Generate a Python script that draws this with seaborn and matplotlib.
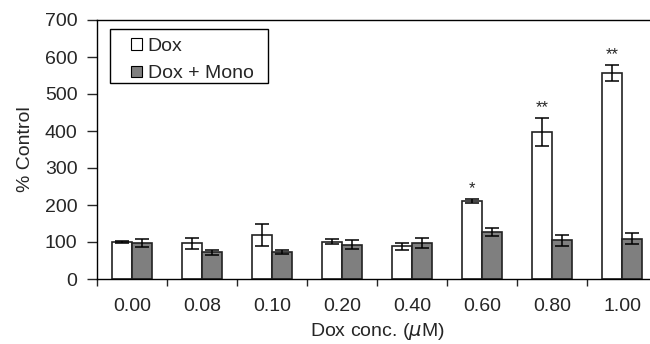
import numpy as np
import pandas as pd
import matplotlib
matplotlib.use('Agg')
import matplotlib.pyplot as plt
from matplotlib.patches import Rectangle
import seaborn as sns

# ─── Data ──────────────────────────────────────────────────────────────────
conc = ['0.00', '0.08', '0.10', '0.20', '0.40', '0.60', '0.80', '1.00']
dox = [100, 97, 118, 101, 88, 211, 397, 557]
dox_err = [2, 15, 30, 7, 10, 5, 38, 22]
mono = [97, 72, 73, 93, 98, 127, 105, 109]
mono_err = [10, 7, 5, 12, 13, 10, 15, 14]
stars = ['', '', '', '', '', '*', '**', '**']
groups = ['Dox', 'Dox + Mono']

df = pd.DataFrame({
    'conc': conc * 2,
    'value': dox + mono,
    'err': dox_err + mono_err,
    'group': [groups[0]] * len(conc) + [groups[1]] * len(conc),
})

sns.set_style('ticks')
plt.rcParams['font.family'] = ['Liberation Sans', 'DejaVu Sans']
fs = 14

fig = plt.figure(figsize=(6.5, 3.44), dpi=100)
ax = fig.add_axes([97 / 650, 1 - 279 / 344, 560 / 650, 259 / 344])

sns.barplot(data=df, x='conc', y='value', hue='group', order=conc, hue_order=groups,
            palette=['white', '#7f7f7f'], edgecolor='#222222', linewidth=1.2,
            width=0.572, errorbar=None, ax=ax)

# error bars on top of each bar
bars = ax.patches[:2 * len(conc)]
for i, (vals, errs) in enumerate([(dox, dox_err), (mono, mono_err)]):
    xs = [p.get_x() + p.get_width() / 2 for p in bars[i * len(conc):(i + 1) * len(conc)]]
    ax.errorbar(xs, vals, yerr=errs, fmt='none', ecolor='black', elinewidth=1.1,
                capsize=5, capthick=1.1)

# significance stars above the Dox bars
dox_x = [p.get_x() + p.get_width() / 2 for p in bars[:len(conc)]]
for x, v, e, s in zip(dox_x, dox, dox_err, stars):
    if s:
        ax.text(x, v + e + 8, s, ha='center', va='bottom', fontsize=12)

ax.set_ylim(0, 700)
ax.set_xlim(-0.5, len(conc) - 0.5)
ax.set_yticks(range(0, 701, 100))
ax.set_xticks(range(len(conc)))
ax.set_xticklabels(conc)
ax.set_xticks(np.arange(-0.5, len(conc), 1.0), minor=True)
ax.tick_params(axis='x', which='major', length=0, labelsize=fs, pad=14)
ax.tick_params(axis='x', which='minor', length=5, width=1, direction='out')
ax.tick_params(axis='y', length=7, width=1, direction='out', labelsize=fs, pad=7)

for side in ['top', 'left', 'bottom']:
    ax.spines[side].set_visible(True)
    ax.spines[side].set_linewidth(1.0)
    ax.spines[side].set_color('black')
ax.spines['right'].set_visible(False)

ax.set_ylabel('% Control', fontsize=fs, labelpad=8)
ax.set_xlabel(r'Dox conc. ($\mu$M)', fontsize=fs, labelpad=4)

# legend without its own frame, boxed separately
leg = ax.legend(loc='upper left', bbox_to_anchor=(0.0607, 0.932), frameon=False,
                fontsize=fs, handlelength=0.55, handleheight=0.55, handletextpad=0.3,
                borderpad=0, labelspacing=0.55, borderaxespad=0)
for h in leg.legend_handles:
    h.set_edgecolor('black')
    h.set_linewidth(0.8)
ax.add_patch(Rectangle((0.0232, 0.757), 0.282, 0.208, transform=ax.transAxes,
                       fill=False, edgecolor='black', linewidth=1.0, zorder=5))

plt.savefig('out.png', dpi=100)
